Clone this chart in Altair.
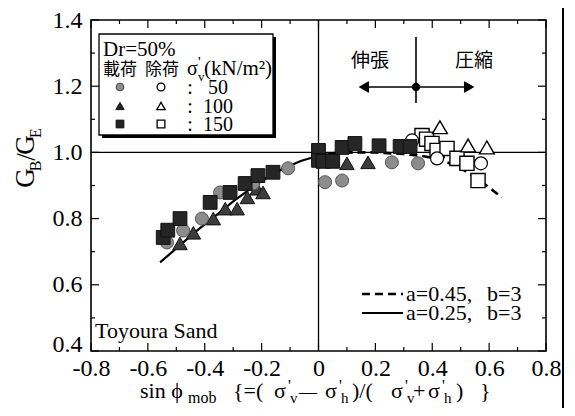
import altair as alt
import pandas as pd

# ---------------- data ----------------
# loading (filled) : sigma'v = 50 (circle), 100 (triangle), 150 (square)
ld50_x = [-0.533, -0.476, -0.41, -0.346, -0.23, -0.107, 0.023, 0.083, 0.258, 0.35]
ld50_y = [0.728, 0.764, 0.80, 0.879, 0.906, 0.952, 0.91, 0.915, 0.97, 0.967]
ld100_x = [-0.487, -0.44, -0.37, -0.328, -0.286, -0.25, -0.216, -0.195, 0.10, 0.174]
ld100_y = [0.725, 0.757, 0.80, 0.83, 0.83, 0.864, 0.89, 0.879, 0.967, 0.97]
ld150_x = [-0.546, -0.53, -0.487, -0.381, -0.311, -0.258, -0.213, -0.16, 0.0, 0.0,
           0.016, 0.05, 0.083, 0.128, 0.213, 0.287, 0.322]
ld150_y = [0.743, 0.765, 0.80, 0.849, 0.879, 0.906, 0.93, 0.94, 1.006, 0.976,
           0.973, 0.973, 1.015, 1.027, 1.02, 1.018, 1.018]
# unloading (open)
ul50_x = [0.329, 0.417, 0.571]
ul50_y = [1.036, 0.982, 0.967]
ul100_x = [0.427, 0.526, 0.592]
ul100_y = [1.076, 1.021, 1.015]
ul150_x = [0.364, 0.38, 0.399, 0.417, 0.452, 0.487, 0.522, 0.561]
ul150_y = [1.051, 1.04, 1.027, 1.006, 1.012, 0.982, 0.967, 0.915]

# model curves (traced)
solid_x = [-0.557, -0.5, -0.43, -0.36, -0.3, -0.24, -0.18, -0.12, -0.06, 0.0, 0.06, 0.12]
solid_y = [0.668, 0.71, 0.762, 0.81, 0.852, 0.89, 0.925, 0.953, 0.975, 0.99, 0.998, 1.0]
dash_x = [0.0, 0.1, 0.2, 0.3, 0.36, 0.41, 0.487, 0.568, 0.645]
dash_y = [0.995, 1.0, 1.0, 0.995, 0.99, 0.982, 0.96, 0.915, 0.864]

x_major = [-0.8, -0.6, -0.4, -0.2, 0.0, 0.2, 0.4, 0.6, 0.8]
x_minor = [-0.7, -0.5, -0.3, -0.1, 0.1, 0.3, 0.5, 0.7]
y_major = [0.4, 0.6, 0.8, 1.0, 1.2, 1.4]
y_minor = [0.5, 0.7, 0.9, 1.1, 1.3]

# ---------------- chart ----------------
FONT = "'Liberation Serif', 'Times New Roman', 'DejaVu Serif', serif"
JP = "'Noto Sans CJK JP', sans-serif"
W, H = 455, 331
X0, Y0 = 91, 20  # screen position of plot origin

xs = alt.Scale(domain=[-0.8, 0.8], nice=False, zero=False)
ys = alt.Scale(domain=[0.4, 1.4], nice=False, zero=False)
one = pd.DataFrame({"k": [0]})

xlab = "datum.value == 0 ? '0' : replace(format(datum.value, '.1f'), '\u2212', '-')"
X_AXIS = alt.Axis(values=x_major, labelExpr=xlab, ticks=False, domain=False, grid=False,
                  labelFont=FONT, labelFontSize=24, labelColor="black", labelPadding=5,
                  labelFlush=False, labelOverlap=False)
Y_AXIS = alt.Axis(values=y_major, format=".1f", ticks=False, domain=False, grid=False,
                  labelFont=FONT, labelFontSize=24, labelColor="black", labelPadding=9,
                  labelFlush=False, labelOverlap=False,
                  labelOffset={"condition": {"test": "datum.value < 0.45", "value": -7},
                               "value": 0})


def XE(f):
    return alt.X(f, scale=xs, axis=X_AXIS, title=None)


def YE(f):
    return alt.Y(f, scale=ys, axis=Y_AXIS, title=None)


def txt(s, sx, sy, size, font=FONT, align="left", baseline="alphabetic", angle=None):
    mk = dict(text=s, font=font, fontSize=size, align=align, baseline=baseline, color="black")
    if angle is not None:
        mk["angle"] = angle
    return alt.Chart(one).mark_text(**mk).encode(x=alt.value(sx - X0), y=alt.value(sy - Y0))


def pts(xv, yv, shape, size, fill, stroke, sw=1.0):
    df = pd.DataFrame({"x": xv, "y": yv})
    return alt.Chart(df).mark_point(shape=shape, size=size, filled=True, fill=fill,
                                    stroke=stroke, strokeWidth=sw, opacity=1).encode(
        x=XE("x:Q"), y=YE("y:Q"))


def spt(sx, sy, shape, size, fill, stroke, sw=1.0):
    return alt.Chart(one).mark_point(shape=shape, size=size, filled=True, fill=fill,
                                     stroke=stroke, strokeWidth=sw, opacity=1).encode(
        x=alt.value(sx - X0), y=alt.value(sy - Y0))


def srule(sx1, sy1, sx2, sy2, sw=1.5, dash=None):
    kw = dict(color="black", strokeWidth=sw)
    if dash:
        kw["strokeDash"] = dash
    return alt.Chart(one).mark_rule(**kw).encode(
        x=alt.value(sx1 - X0), x2=alt.value(sx2 - X0),
        y=alt.value(sy1 - Y0), y2=alt.value(sy2 - Y0))


def xticks(vals, ln):
    df = pd.DataFrame({"v": vals})
    b = alt.Chart(df).mark_rule(color="black", strokeWidth=1.2)
    return [b.encode(x=XE("v:Q"), y=alt.value(H), y2=alt.value(H - ln)),
            b.encode(x=XE("v:Q"), y=alt.value(0), y2=alt.value(ln))]


def yticks(vals, ln):
    df = pd.DataFrame({"v": vals})
    b = alt.Chart(df).mark_rule(color="black", strokeWidth=1.2)
    return [b.encode(y=YE("v:Q"), x=alt.value(0), x2=alt.value(ln)),
            b.encode(y=YE("v:Q"), x=alt.value(W), x2=alt.value(W - ln))]


ticks = xticks(x_major, 8) + xticks(x_minor, 4) + yticks(y_major, 8) + yticks(y_minor, 4)

ref_lines = [
    alt.Chart(pd.DataFrame({"v": [0.0]})).mark_rule(color="black", strokeWidth=1.3).encode(
        x=XE("v:Q")),
    alt.Chart(pd.DataFrame({"v": [1.0]})).mark_rule(color="black", strokeWidth=1.3).encode(
        y=YE("v:Q")),
]

solid = alt.Chart(pd.DataFrame({"x": solid_x, "y": solid_y})).mark_line(
    color="black", strokeWidth=2.2).encode(x=XE("x:Q"), y=YE("y:Q"))
dashed = alt.Chart(pd.DataFrame({"x": dash_x, "y": dash_y})).mark_line(
    color="black", strokeWidth=2.6, strokeDash=[8, 5]).encode(x=XE("x:Q"), y=YE("y:Q"))

scatter = [
    pts(ul150_x, ul150_y, "square", 200, "white", "black", 1.4),
    pts(ul50_x, ul50_y, "circle", 170, "white", "black", 1.2),
    pts(ul100_x, ul100_y, "triangle-up", 220, "white", "black", 1.4),
    pts(ld100_x, ld100_y, "triangle-up", 210, "#3c3c3c", "#111111", 1.0),
    pts(ld50_x, ld50_y, "circle", 170, "#8c8c8c", "#555555", 1.0),
    pts(ld150_x, ld150_y, "square", 190, "#262626", "#111111", 1.0),
]

# legend box (with shadow)
legend = [
    alt.Chart(one).mark_rect(color="black").encode(
        x=alt.value(102 - X0), x2=alt.value(276 - X0), y=alt.value(37 - Y0), y2=alt.value(138 - Y0)),
    alt.Chart(one).mark_rect(fill="white", stroke="black", strokeWidth=1.3).encode(
        x=alt.value(99 - X0), x2=alt.value(273 - X0), y=alt.value(34 - Y0), y2=alt.value(135 - Y0)),
    txt("Dr=50%", 103, 56, 21),
    txt("載荷", 103, 75, 17, font=JP),
    txt("除荷", 145, 75, 17, font=JP),
    txt("σ", 187, 75, 20),
    txt("'", 198, 67, 15),
    txt("v", 198, 81, 13),
    txt("(kN/m²)", 204, 75, 21),
    spt(120, 87, "circle", 60, "#8c8c8c", "#444444"),
    spt(120, 106, "triangle-up", 70, "#222222", "#111111"),
    spt(120, 124, "square", 60, "#222222", "#111111"),
    spt(161, 87, "circle", 60, "white", "black", 1.3),
    spt(161, 106, "triangle-up", 70, "white", "black", 1.3),
    spt(161, 124, "square", 60, "white", "black", 1.3),
    txt(":", 190, 94, 20, align="center"),
    txt(":", 190, 113, 20, align="center"),
    txt(":", 190, 131, 20, align="center"),
    txt("50", 218, 94, 20, align="center"),
    txt("100", 218, 113, 20, align="center"),
    txt("150", 218, 131, 20, align="center"),
]

# compression / extension arrows
arrows = [
    srule(416, 37, 416, 103, 1.6),
    srule(366, 87, 467, 87, 1.6),
    spt(364, 87, "triangle-left", 110, "black", "black"),
    spt(469, 87, "triangle-right", 110, "black", "black"),
    spt(416, 87, "circle", 55, "black", "black"),
    txt("伸張", 370, 61, 19, font=JP, align="center", baseline="middle"),
    txt("圧縮", 474, 61, 19, font=JP, align="center", baseline="middle"),
]

# curve legend
curve_leg = [
    srule(362, 294, 403, 294, 2.4, dash=[8, 5]),
    srule(362, 313, 403, 313, 2.2),
    txt("a=0.45,", 406, 301, 22),
    txt("b=3", 487, 301, 22),
    txt("a=0.25,", 406, 320, 22),
    txt("b=3", 487, 320, 22),
    txt("Toyoura Sand", 95, 338, 22),
]

# axis titles (composed so sub/superscripts are real text)
ytitle = [
    txt("G", 26, 178, 27, align="center", baseline="middle", angle=270),
    txt("B", 36, 166, 16, align="center", baseline="middle", angle=270),
    txt("/", 27, 157, 27, align="center", baseline="middle", angle=270),
    txt("G", 26, 145, 27, align="center", baseline="middle", angle=270),
    txt("E", 36, 133, 16, align="center", baseline="middle", angle=270),
]
TB = 398
xtitle = [
    txt("sin ϕ", 140, TB, 22),
    txt("mob", 188, TB + 5, 16),
    txt("{=(", 233, TB, 22),
    txt("σ", 274, TB, 22),
    txt("'", 288, TB - 7, 16),
    txt("v", 290, TB + 5, 15),
    txt("—", 299, TB, 18),
    txt("σ", 325, TB, 22),
    txt("'", 339, TB - 7, 16),
    txt("h", 341, TB + 5, 15),
    txt(")/(", 352, TB, 22),
    txt("σ", 391, TB, 22),
    txt("'", 405, TB - 7, 16),
    txt("v", 407, TB + 5, 15),
    txt("+", 413, TB, 22),
    txt("σ", 428, TB, 22),
    txt("'", 442, TB - 7, 16),
    txt("h", 444, TB + 5, 15),
    txt(")", 456, TB, 22),
    txt("}", 480, TB, 22),
]

edge = [srule(563, 0, 563, 416, 2.0)]

chart = alt.layer(
    *ref_lines, *ticks, solid, dashed, *scatter, *legend, *arrows, *curve_leg,
    *ytitle, *xtitle, *edge
).properties(
    width=W, height=H,
    autosize=alt.AutoSizeParams(type="none"),
    padding={"left": X0 - 8, "top": Y0 - 8, "right": 575 - 16 - (X0 - 8) - W,
             "bottom": 416 - 8 - Y0 - H},
    background="white",
).configure_view(stroke="black", strokeWidth=1.6)

chart.save("out.html", embed_options={"renderer": "svg", "actions": False})
